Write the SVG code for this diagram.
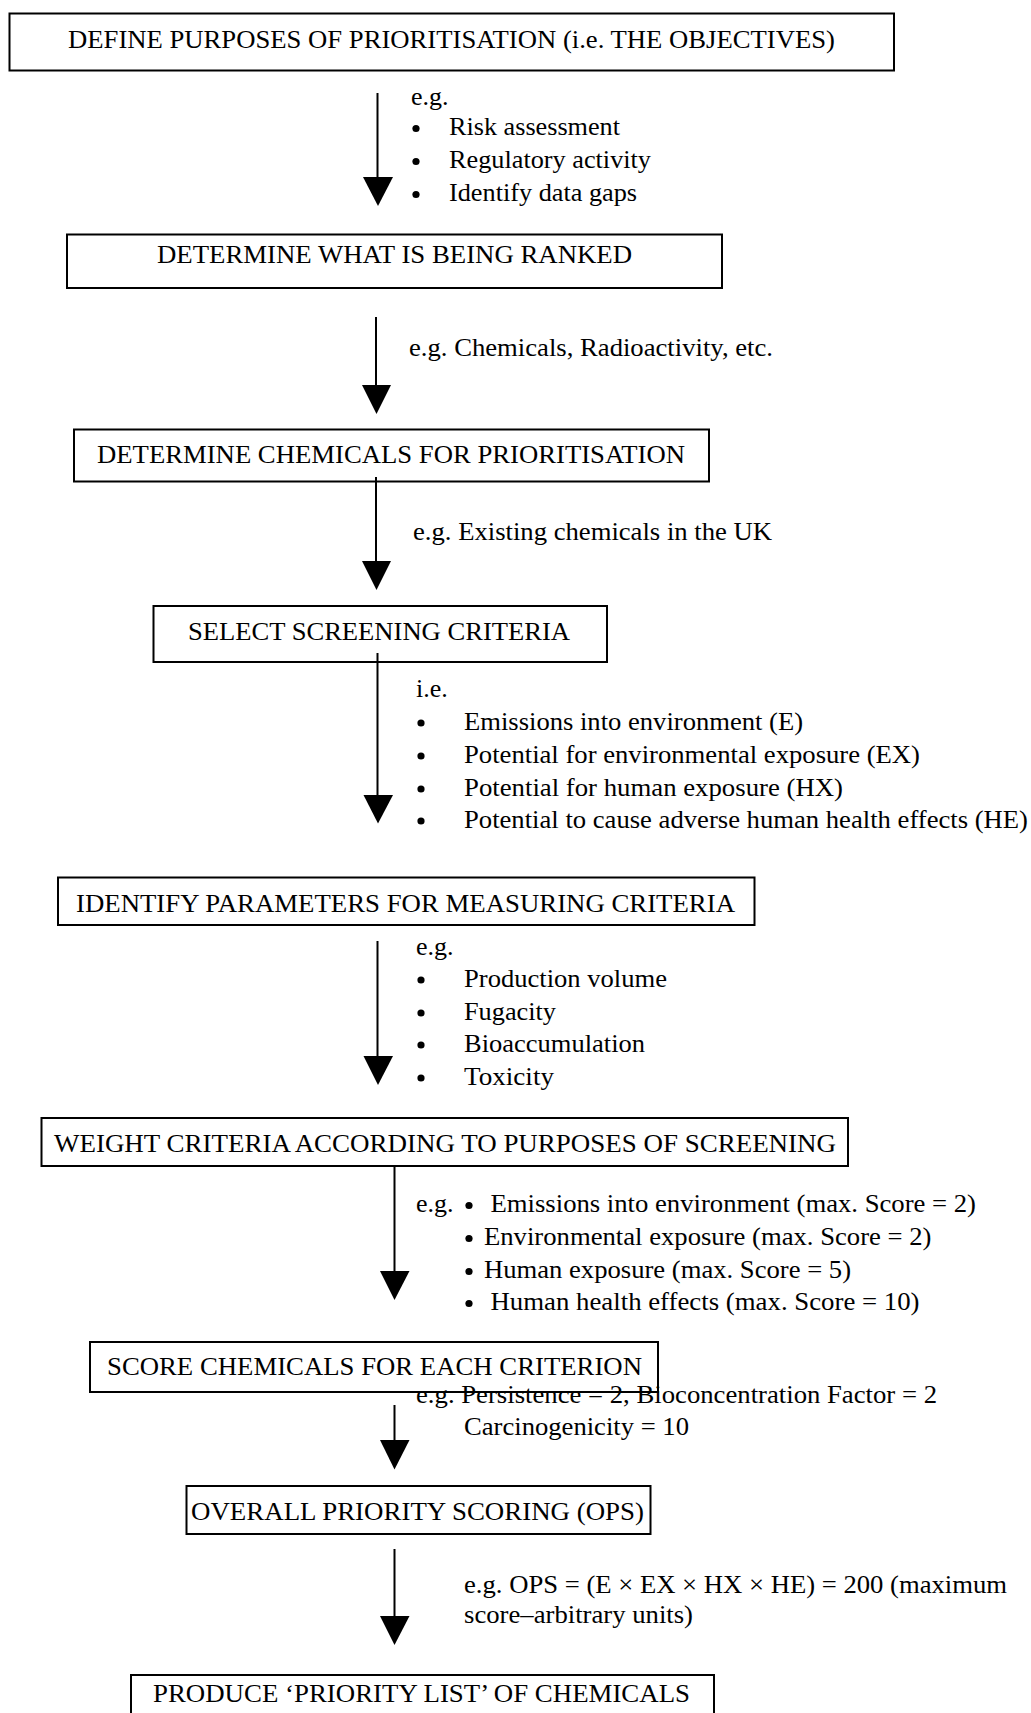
<svg xmlns="http://www.w3.org/2000/svg" width="1031" height="1713" viewBox="0 0 1031 1713">
<defs><circle id="dot" r="3.6" fill="#000"/></defs>
<style>
.box{fill:none;stroke:#000;stroke-width:2}
text{font-family:"Liberation Serif","Times New Roman",serif;font-size:26px;fill:#000}
.ln{stroke:#000;stroke-width:2;fill:none}
.hd{fill:#000;stroke:none}
</style>
<rect width="1031" height="1713" fill="#fff"/>
<g id="n1"><rect class="box" x="9.5" y="13.5" width="884.5" height="57" stroke="#333"/><text x="68" y="48" textLength="767" lengthAdjust="spacingAndGlyphs">DEFINE PURPOSES OF PRIORITISATION (i.e. THE OBJECTIVES)</text></g>
<g id="n2"><rect class="box" x="67" y="234.5" width="655" height="53.5"/><text x="157" y="263" textLength="475" lengthAdjust="spacingAndGlyphs">DETERMINE WHAT IS BEING RANKED</text></g>
<g id="n3"><rect class="box" x="74" y="429.5" width="635" height="52"/><text x="97" y="463" textLength="588" lengthAdjust="spacingAndGlyphs">DETERMINE CHEMICALS FOR PRIORITISATION</text></g>
<g id="n4"><rect class="box" x="153.5" y="606" width="453.5" height="56"/><text x="188" y="640" textLength="382" lengthAdjust="spacingAndGlyphs">SELECT SCREENING CRITERIA</text></g>
<g id="n5"><rect class="box" x="58" y="877.5" width="696.5" height="47.5"/><text x="76" y="912" textLength="659" lengthAdjust="spacingAndGlyphs">IDENTIFY PARAMETERS FOR MEASURING CRITERIA</text></g>
<g id="n6"><rect class="box" x="41.5" y="1118" width="806.5" height="48"/><text x="54" y="1152" textLength="782" lengthAdjust="spacingAndGlyphs">WEIGHT CRITERIA ACCORDING TO PURPOSES OF SCREENING</text></g>
<g id="n7"><rect class="box" x="90" y="1342" width="568" height="50"/><text x="107" y="1375" textLength="535" lengthAdjust="spacingAndGlyphs">SCORE CHEMICALS FOR EACH CRITERION</text></g>
<g id="n8"><rect class="box" x="186.5" y="1486" width="464" height="48"/><text x="191" y="1520" textLength="453" lengthAdjust="spacingAndGlyphs">OVERALL PRIORITY SCORING (OPS)</text></g>
<g id="n9"><rect class="box" x="131" y="1675" width="583" height="60"/><text x="153" y="1702" textLength="537" lengthAdjust="spacingAndGlyphs">PRODUCE ‘PRIORITY LIST’ OF CHEMICALS</text></g>
<g id="connectors">
<line class="ln" x1="377.5" y1="93" x2="377.5" y2="180"/><polygon class="hd" points="363,177 393,177 378,206"/>
<line class="ln" x1="376" y1="317" x2="376" y2="388"/><polygon class="hd" points="362,385 391,385 376.5,414"/>
<line class="ln" x1="376" y1="477" x2="376" y2="564"/><polygon class="hd" points="362,561 391,561 376.5,590"/>
<line class="ln" x1="377.5" y1="653" x2="377.5" y2="798"/><polygon class="hd" points="363.5,795 393,795 378,823.5"/>
<line class="ln" x1="377.5" y1="941" x2="377.5" y2="1059"/><polygon class="hd" points="363.5,1056 393,1056 378,1085"/>
<line class="ln" x1="394.5" y1="1166" x2="394.5" y2="1274"/><polygon class="hd" points="380,1271 409.5,1271 394.5,1300"/>
<line class="ln" x1="394.5" y1="1405" x2="394.5" y2="1443"/><polygon class="hd" points="380,1440 409.5,1440 394.5,1469.5"/>
<line class="ln" x1="394.5" y1="1549" x2="394.5" y2="1619"/><polygon class="hd" points="380,1616 409.5,1616 394.5,1645"/>
</g>
<g id="bullets">
<use href="#dot" x="416" y="128.5"/><use href="#dot" x="416" y="161.5"/><use href="#dot" x="416" y="194.5"/>
<use href="#dot" x="421" y="723"/><use href="#dot" x="421" y="756"/><use href="#dot" x="421" y="789"/><use href="#dot" x="421" y="821"/>
<use href="#dot" x="421" y="980"/><use href="#dot" x="421" y="1013"/><use href="#dot" x="421" y="1045"/><use href="#dot" x="421" y="1078"/>
<use href="#dot" x="469" y="1205.5"/><use href="#dot" x="469" y="1238.5"/><use href="#dot" x="469" y="1271.5"/><use href="#dot" x="469" y="1303.5"/>
</g>
<g id="labels">
<text x="411" y="105">e.g.</text>
<text x="449" y="135" textLength="171" lengthAdjust="spacingAndGlyphs">Risk assessment</text>
<text x="449" y="168" textLength="202" lengthAdjust="spacingAndGlyphs">Regulatory activity</text>
<text x="449" y="201" textLength="188" lengthAdjust="spacingAndGlyphs">Identify data gaps</text>
<text x="409" y="356" textLength="364" lengthAdjust="spacingAndGlyphs">e.g. Chemicals, Radioactivity, etc.</text>
<text x="413" y="540" textLength="359" lengthAdjust="spacingAndGlyphs">e.g. Existing chemicals in the UK</text>
<text x="416" y="697">i.e.</text>
<text x="464" y="730" textLength="339" lengthAdjust="spacingAndGlyphs">Emissions into environment (E)</text>
<text x="464" y="763" textLength="456" lengthAdjust="spacingAndGlyphs">Potential for environmental exposure (EX)</text>
<text x="464" y="796" textLength="379" lengthAdjust="spacingAndGlyphs">Potential for human exposure (HX)</text>
<text x="464" y="828" textLength="564" lengthAdjust="spacingAndGlyphs">Potential to cause adverse human health effects (HE)</text>
<text x="416" y="955">e.g.</text>
<text x="464" y="987" textLength="203" lengthAdjust="spacingAndGlyphs">Production volume</text>
<text x="464" y="1020" textLength="92" lengthAdjust="spacingAndGlyphs">Fugacity</text>
<text x="464" y="1052" textLength="181" lengthAdjust="spacingAndGlyphs">Bioaccumulation</text>
<text x="464" y="1085" textLength="90" lengthAdjust="spacingAndGlyphs">Toxicity</text>
<text x="416" y="1212">e.g.</text>
<text x="490.5" y="1212" textLength="485.5" lengthAdjust="spacingAndGlyphs">Emissions into environment (max. Score = 2)</text>
<text x="484" y="1245" textLength="447.5" lengthAdjust="spacingAndGlyphs">Environmental exposure (max. Score = 2)</text>
<text x="484" y="1278" textLength="367" lengthAdjust="spacingAndGlyphs">Human exposure (max. Score = 5)</text>
<text x="490.5" y="1310" textLength="429" lengthAdjust="spacingAndGlyphs">Human health effects (max. Score = 10)</text>
<text x="416" y="1403" textLength="521" lengthAdjust="spacingAndGlyphs">e.g. Persistence = 2, Bioconcentration Factor = 2</text>
<text x="464" y="1435" textLength="225" lengthAdjust="spacingAndGlyphs">Carcinogenicity = 10</text>
<text x="464" y="1593" textLength="543" lengthAdjust="spacingAndGlyphs">e.g. OPS = (E × EX × HX × HE) = 200 (maximum</text>
<text x="464" y="1623" textLength="229" lengthAdjust="spacingAndGlyphs">score–arbitrary units)</text>
</g>
</svg>
